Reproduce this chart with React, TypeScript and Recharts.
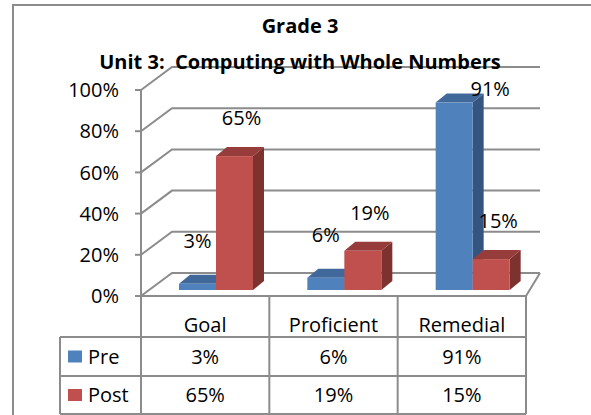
import { Bar, BarChart, CartesianGrid, Customized, LabelList, XAxis, YAxis, usePlotArea } from "recharts";

const TITLE = ["Grade 3", "Unit 3:  Computing with Whole Numbers"];
const CATEGORIES = ["Goal", "Proficient", "Remedial"];
const SERIES = ["Pre", "Post"];
const PRE = [0.03, 0.06, 0.91];
const POST = [0.65, 0.19, 0.15];
const Y_TICKS = [0, 0.2, 0.4, 0.6, 0.8, 1];

const W = 591;
const H = 415;
const MARGIN = { top: 90, right: 65, bottom: 0, left: 0 };
const Y_AXIS_W = 141;
const X_AXIS_H = 119;
const FONT = "'Open Sans', sans-serif";
const GRID = "#8c8c8c";

// back wall offset (left/right differ a bit: perspective)
const WALL_DX_L = 31;
const WALL_DX_R = 14;
const WALL_DY = -23;
// bars sit a little behind the front edge, and have their own depth
const BAR_OX = 11;
const BAR_OY = -6;
const BAR_DX = 11;
const BAR_DY = -9;

const COLORS: Record<string, { front: string; top: string; side: string }> = {
  Pre: { front: "#4F81BD", top: "#41689A", side: "#34557F" },
  Post: { front: "#C0504D", top: "#963D3B", side: "#7E3230" },
};

const data = CATEGORIES.map((name, i) => ({ name, Pre: PRE[i], Post: POST[i] }));
const pct = (v: number) => `${Math.round(v * 100)}%`;

function Bar3D(props: any) {
  const { x, y, width, height, series } = props;
  const c = COLORS[series];
  const fx = x + BAR_OX;
  const fy = y + BAR_OY;
  const top = `${fx},${fy} ${fx + BAR_DX},${fy + BAR_DY} ${fx + width + BAR_DX},${fy + BAR_DY} ${fx + width},${fy}`;
  const side = `${fx + width},${fy} ${fx + width + BAR_DX},${fy + BAR_DY} ${fx + width + BAR_DX},${fy + height + BAR_DY} ${fx + width},${fy + height}`;
  return (
    <g>
      <polygon points={side} fill={c.side} />
      <polygon points={top} fill={c.top} />
      <rect x={fx} y={fy} width={width} height={height} fill={c.front} />
    </g>
  );
}

function makeLabel(series: string) {
  const nudge = series === "Pre" ? 0 : 7;
  const lift = series === "Pre" ? 43 : 38;
  return function BarLabel(props: any) {
    const { x, y, width, value } = props;
    let cx = x + BAR_OX + width / 2 + nudge;
    let cy = y + BAR_OY - lift;
    // Excel pushes the label aside when it would hit the title
    if (cy < MARGIN.top - 4) {
      cy = MARGIN.top - 1;
      cx += 36;
    }
    return (
      <text x={cx} y={cy} dy="0.36em" textAnchor="middle" fontSize={20} fontFamily={FONT} fill="#000">
        {pct(value)}
      </text>
    );
  };
}

function GridLine(p: any) {
  const { x1, y1, x2 } = p;
  const isFloor = Math.abs(y1 - (H - X_AXIS_H)) < 1;
  return (
    <g>
      <polyline
        points={`${x1},${y1} ${x1 + WALL_DX_L},${y1 + WALL_DY} ${x2 + WALL_DX_R},${y1 + WALL_DY}`}
        fill="none"
        stroke={GRID}
        strokeWidth={2}
      />
      {isFloor && (
        <polyline
          points={`${x1},${y1} ${x2},${y1} ${x2 + WALL_DX_R},${y1 + WALL_DY}`}
          fill="none"
          stroke={GRID}
          strokeWidth={2}
        />
      )}
    </g>
  );
}

function CategoryTick(props: any) {
  const { x, y, payload } = props;
  return (
    <text x={x} y={y + 36} textAnchor="middle" fontSize={20} fontFamily={FONT} fill="#000">
      {payload.value}
    </text>
  );
}

function Overlay() {
  const area = usePlotArea ? usePlotArea() : null;
  const left = area ? area.x : Y_AXIS_W;
  const width = area ? area.width : W - Y_AXIS_W - MARGIN.right;
  const tableTop = area ? area.y + area.height : H - X_AXIS_H;
  const band = width / CATEGORIES.length;
  const legendLeft = 60;
  const rows = [tableTop + 41, tableTop + 80, tableTop + 118];
  const values: Record<string, number[]> = { Pre: PRE, Post: POST };

  return (
    <g>
      <polyline points={`13,${H + 10} 13,5 ${W + 10},5`} fill="none" stroke={GRID} strokeWidth={2} />
      {TITLE.map((t, i) => (
        <text
          key={t}
          x={300}
          y={33 + i * 36}
          textAnchor="middle"
          fontSize={20}
          fontWeight="bold"
          fontFamily={FONT}
          fill="#000"
          style={{ whiteSpace: "pre" }}
        >
          {t}
        </text>
      ))}

      {[0, 1, 2, 3].map((i) => (
        <line
          key={"v" + i}
          x1={left + i * band}
          x2={left + i * band}
          y1={tableTop}
          y2={rows[2]}
          stroke={GRID}
          strokeWidth={2}
        />
      ))}
      <line x1={legendLeft} x2={legendLeft} y1={rows[0]} y2={rows[2]} stroke={GRID} strokeWidth={2} />
      {rows.map((ry) => (
        <line key={"h" + ry} x1={legendLeft} x2={left + width} y1={ry} y2={ry} stroke={GRID} strokeWidth={2} />
      ))}

      {SERIES.map((s, r) => {
        const cy = (rows[r] + rows[r + 1]) / 2;
        return (
          <g key={s}>
            <rect x={legendLeft + 8} y={cy - 6} width={14} height={12} fill={COLORS[s].front} />
            <text x={legendLeft + 28} y={cy} dy="0.36em" fontSize={20} fontFamily={FONT} fill="#000">
              {s}
            </text>
            {values[s].map((v, i) => (
              <text
                key={i}
                x={left + band * (i + 0.5)}
                y={cy}
                dy="0.36em"
                textAnchor="middle"
                fontSize={20}
                fontFamily={FONT}
                fill="#000"
              >
                {pct(v)}
              </text>
            ))}
          </g>
        );
      })}
    </g>
  );
}

export default function App() {
  return (
    <div style={{ position: "absolute", left: 0, top: 0, width: W, height: H, background: "#fff" }}>
      <BarChart width={W} height={H} data={data} margin={MARGIN} barCategoryGap={27} barGap={0}>
        <CartesianGrid vertical={false} horizontal={GridLine} />
        <XAxis
          dataKey="name"
          height={X_AXIS_H}
          axisLine={false}
          tickLine={false}
          tickSize={0}
          tickMargin={0}
          interval={0}
          tick={<CategoryTick />}
        />
        <YAxis
          domain={[0, 1]}
          ticks={Y_TICKS}
          interval={0}
          width={Y_AXIS_W}
          tickFormatter={pct}
          tickSize={6}
          tickMargin={16}
          tick={{ fill: "#000", fontSize: 20, fontFamily: FONT }}
          tickLine={{ stroke: GRID, strokeWidth: 2 }}
          axisLine={{ stroke: GRID, strokeWidth: 2 }}
        />
        {SERIES.map((s) => (
          <Bar
            key={s}
            dataKey={s}
            isAnimationActive={false}
            shape={(p: any) => <Bar3D {...p} series={s} />}
          >
            <LabelList dataKey={s} content={makeLabel(s)} />
          </Bar>
        ))}
        <Customized component={<Overlay />} />
      </BarChart>
    </div>
  );
}
